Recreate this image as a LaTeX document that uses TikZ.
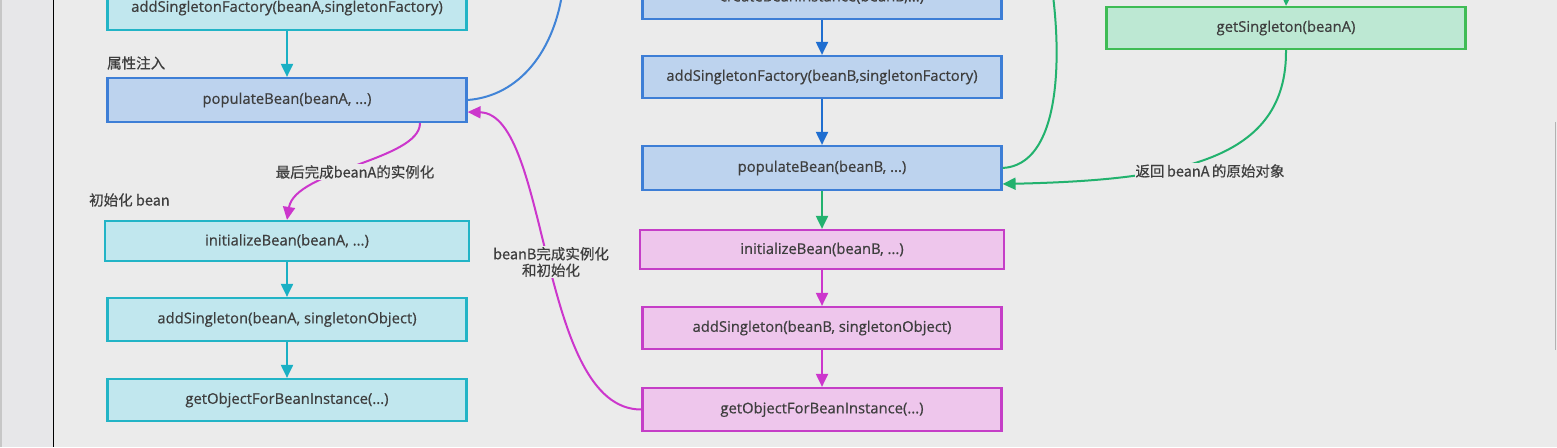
\documentclass[tikz,border=0pt]{standalone}
\usepackage{fontspec}
\setmainfont[FakeBold=0.5]{Noto Sans CJK SC}
\newfontfamily\codefont[FakeBold=0.6]{Open Sans}
\usetikzlibrary{arrows.meta,positioning,calc}

\definecolor{bgpage}{HTML}{EBEBEB}
\definecolor{bgside}{HTML}{E7E7E9}
\definecolor{txt}{HTML}{3E3E3E}
\definecolor{tealline}{HTML}{22B4C6}
\definecolor{tealfill}{HTML}{C1E7EE}
\definecolor{blueline}{HTML}{3D7ED6}
\definecolor{bluefill}{HTML}{BDD3EE}
\definecolor{magline}{HTML}{C53EC7}
\definecolor{magfill}{HTML}{EEC6EC}
\definecolor{grnline}{HTML}{3FBC55}
\definecolor{grnfill}{HTML}{BDE8D3}
\definecolor{tealarc}{HTML}{1AB0C4}
\definecolor{bluearc}{HTML}{1F6ED0}
\definecolor{grnarc}{HTML}{22B26E}
\definecolor{magarc}{HTML}{CC36CC}

\begin{document}
\begin{tikzpicture}[x=1pt,y=-1pt,
  box/.style={draw,line width=2.2pt,minimum width=359pt,minimum height=44pt,
              inner sep=0pt,text=txt,font=\codefont\fontsize{14.8}{17}\selectfont},
  tealbox/.style={box,draw=tealline,fill=tealfill},
  bluebox/.style={box,draw=blueline,fill=bluefill},
  magbox/.style={box,draw=magline,fill=magfill},
  grnbox/.style={box,draw=grnline,fill=grnfill},
  ar/.style={-{Triangle[length=13pt,width=12pt]},line width=2pt},
  tealar/.style={ar,tealarc},
  bluear/.style={ar,bluearc},
  grnar/.style={ar,grnarc},
  magar/.style={ar,magarc},
  lbl/.style={text=txt,fill=bgpage,inner sep=1pt,align=center,
              font=\fontsize{14.5}{16.5}\selectfont}]
\useasboundingbox (0,0) rectangle (1557,447);
\clip (0,0) rectangle (1557,447);
\fill[bgpage] (0,0) rectangle (1557,447);
\fill[bgside] (0,0) rectangle (53,447);
\fill[black!22] (0,0) rectangle (2,447);
\draw[line width=1.5pt] (53.5,0) -- (53.5,447);
\draw[black!30,line width=1pt] (1555.5,122) -- (1555.5,350);

\node[tealbox] (lsf) at (287,8) {addSingletonFactory(beanA,singletonFactory)};
\node[bluebox] (lpop) at (287,100) {populateBean(beanA, ...)};
\node[tealbox,minimum width=364pt,minimum height=40pt] (linit) at (287,241) {initializeBean(beanA, ...)};
\node[tealbox,minimum height=43pt] (ladd) at (287,319.5) {addSingleton(beanA, singletonObject)};
\node[tealbox,minimum height=42pt] (lget) at (287,400) {getObjectForBeanInstance(...)};

\node[bluebox] (mcreate) at (822,-3) {createBeanInstance(beanB,...)};
\node[bluebox,minimum height=42pt] (msf) at (822,77) {addSingletonFactory(beanB,singletonFactory)};
\node[bluebox] (mpop) at (822,168) {populateBean(beanB, ...)};
\node[magbox,minimum width=364pt,minimum height=39pt] (minit) at (822,249.5) {initializeBean(beanB, ...)};
\node[magbox,minimum height=42pt] (madd) at (822,328) {addSingleton(beanB, singletonObject)};
\node[magbox,minimum height=43pt] (mget) at (822,409.5) {getObjectForBeanInstance(...)};

\node[grnbox,minimum height=42pt] (gs) at (1286,28) {getSingleton(beanA)};

\coordinate (bluetop) at (563,-12);
\coordinate (grntop) at (1052,-12);
\coordinate (gsin) at (1287,-20);

\draw[tealar] (lsf) -- (lpop);
\draw[tealar] (linit) -- (ladd);
\draw[tealar] (ladd) -- (lget);
\draw[bluear] (mcreate) -- (msf);
\draw[bluear] (msf) -- (mpop);
\draw[grnar] (mpop) -- (minit);
\draw[magar] (minit) -- (madd);
\draw[magar] (madd) -- (mget);
\draw[grnar] (gsin) -- (gs.north);

\draw[bluearc!85!white,line width=2pt] (lpop.east) .. controls (520,96) and (555,50) .. (bluetop);
\draw[magar] ([xshift=133pt]lpop.south) .. controls (420,160) and (295,170) .. (linit.north);
\draw[magar] (mget.west) .. controls (538,410) and (550,114) .. ([yshift=-12pt]lpop.east);
\draw[grnarc,line width=2pt] (mpop.east) .. controls (1060,165) and (1062,60) .. (grntop);
\draw[grnar] (gs.south) .. controls (1287,160) and (1180,180) .. ([yshift=-16pt]mpop.east);

\node[lbl,anchor=west] (injlbl) at (106,63) {属性注入};
\node[lbl,anchor=west] (initlbl) at (88,200) {初始化 bean};
\node[lbl] (finAlbl) at (355,172) {最后完成beanA的实例化};
\node[lbl] (finBlbl) at (551,262) {beanB完成实例化\\和初始化};
\node[lbl] (retlbl) at (1210,171) {返回\,beanA\,的原始对象};
\end{tikzpicture}
\end{document}
